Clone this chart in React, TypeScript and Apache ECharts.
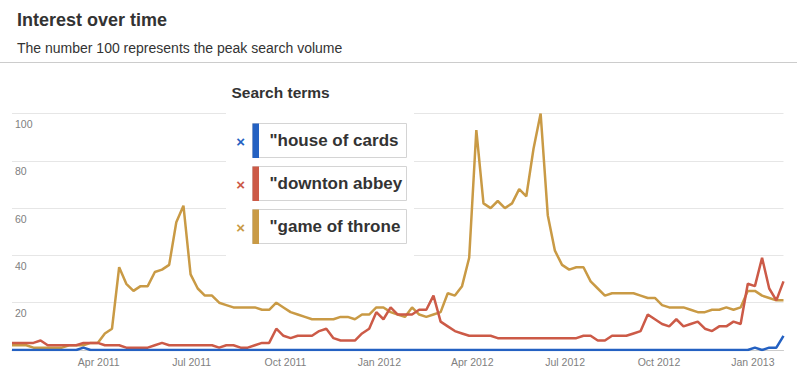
import React, { useEffect, useRef } from "react";
import * as echarts from "echarts";

// ---- data ----
const firstPoint = "2011-01-06"; // first weekly point
const weekMs = 7 * 24 * 3600 * 1000;

const termNames = ['"house of cards"', '"downton abbey"', '"game of thrones"'];
const termColors = ["#2461c2", "#cc5a47", "#c99a45"];

const houseOfCards = [
  0, 0, 0, 0, 0, 0, 0, 0, 0, 0, 1, 0, 0, 0, 0, 0, 0, 0, 0, 0,
  0, 0, 0, 0, 0, 0, 0, 0, 0, 0, 0, 0, 0, 0, 0, 0, 0, 0, 0, 0,
  0, 0, 0, 0, 0, 0, 0, 0, 0, 0, 0, 0, 0, 0, 0, 0, 0, 0, 0, 0,
  0, 0, 0, 0, 0, 0, 0, 0, 0, 0, 0, 0, 0, 0, 0, 0, 0, 0, 0, 0,
  0, 0, 0, 0, 0, 0, 0, 0, 0, 0, 0, 0, 0, 0, 0, 0, 0, 0, 0, 0,
  0, 0, 0, 0, 1, 0, 1, 1, 6,
];

const downtonAbbey = [
  3, 3, 3, 3, 4, 2, 2, 2, 2, 2, 3, 3, 3, 2, 2, 2, 1, 1, 1, 1,
  2, 3, 2, 2, 2, 2, 2, 2, 2, 1, 2, 2, 1, 1, 2, 3, 3, 9, 6, 5,
  6, 6, 6, 8, 9, 5, 4, 4, 4, 7, 9, 16, 13, 18, 15, 15, 15, 17, 17, 23,
  12, 10, 8, 7, 6, 6, 6, 6, 5, 5, 5, 5, 5, 5, 5, 5, 5, 5, 5, 5,
  6, 6, 4, 4, 6, 6, 6, 7, 8, 15, 13, 11, 10, 13, 10, 11, 12, 9, 8, 10,
  10, 12, 11, 28, 27, 39, 26, 21, 29,
];

const gameOfThrones = [
  2, 2, 2, 1, 1, 1, 1, 1, 2, 2, 2, 3, 3, 7, 9, 35, 28, 25, 27, 27,
  33, 34, 36, 54, 61, 32, 26, 23, 23, 20, 19, 18, 18, 18, 18, 17, 17, 20, 18, 16,
  15, 14, 13, 13, 13, 13, 14, 14, 13, 15, 15, 18, 18, 16, 15, 14, 18, 15, 14, 15,
  16, 24, 23, 27, 39, 93, 62, 60, 63, 60, 62, 68, 65, 85, 100, 57, 42, 36, 34, 35,
  35, 29, 26, 23, 24, 24, 24, 24, 23, 22, 22, 19, 18, 18, 18, 17, 16, 16, 17, 17,
  18, 17, 18, 25, 25, 23, 22, 21, 21,
];

const tickDates = [
  "2011-04-01", "2011-07-01", "2011-10-01", "2012-01-01",
  "2012-04-01", "2012-07-01", "2012-10-01", "2013-01-01",
];
const tickLabels = [
  "Apr 2011", "Jul 2011", "Oct 2011", "Jan 2012",
  "Apr 2012", "Jul 2012", "Oct 2012", "Jan 2013",
];

const FONT = "'Liberation Sans', Arial, Helvetica, sans-serif";

export default function App() {
  const ref = useRef<HTMLDivElement>(null);

  useEffect(() => {
    if (!ref.current) return;
    const chart = echarts.init(ref.current, null, { renderer: "svg" });

    const t0 = Date.parse(firstPoint);
    const toPoints = (arr: number[]) => arr.map((v, i) => [t0 + i * weekMs, v]);
    const tLast = t0 + (gameOfThrones.length - 1) * weekMs;
    const tickTimes = tickDates.map((d) => Date.parse(d));
    const labelMap = new Map<number, string>();
    tickTimes.forEach((t, i) => labelMap.set(t, tickLabels[i]));

    const seriesData = [houseOfCards, downtonAbbey, gameOfThrones];
    const drawOrder = [2, 1, 0];

    const boxTops = [123.5, 166.5, 209.5];
    const boxH = 34;

    const legendEls: any[] = [];
    termNames.forEach((name, i) => {
      const top = boxTops[i];
      const cy = top + boxH / 2;
      legendEls.push({
        type: "text",
        x: 240.5,
        y: cy + 0.5,
        z: 110,
        style: {
          text: "×",
          fontSize: 15,
          fontWeight: "bold",
          fontFamily: FONT,
          fill: termColors[i],
          align: "center",
          verticalAlign: "middle",
        },
      });
      legendEls.push({
        type: "rect",
        z: 110,
        shape: { x: 252.5, y: top, width: 154, height: boxH },
        style: { fill: "#ffffff", stroke: "#d4d4d4", lineWidth: 1 },
      });
      legendEls.push({
        type: "rect",
        z: 111,
        shape: { x: 252.5, y: top, width: 6.5, height: boxH + 0.5 },
        style: { fill: termColors[i] },
      });
      legendEls.push({
        type: "text",
        x: 269.5,
        y: cy,
        z: 112,
        style: {
          text: name,
          fontSize: 17,
          fontWeight: "bold",
          fontFamily: FONT,
          fill: "#333333",
          align: "left",
          verticalAlign: "middle",
          width: 134,
          overflow: "truncate",
          ellipsis: "",
        },
      });
    });

    chart.setOption({
      animation: false,
      textStyle: { fontFamily: FONT },
      grid: {
        left: 12,
        right: 13.5,
        top: 113.5,
        bottom: 27,
        containLabel: false,
        outerBoundsMode: "none",
      },
      xAxis: {
        type: "value",
        min: t0,
        max: tLast,
        axisLine: { show: true, lineStyle: { color: "#cccccc", width: 1 } },
        axisTick: { show: false },
        splitLine: { show: false },
        axisLabel: {
          customValues: tickTimes,
          formatter: (v: number) => labelMap.get(v) ?? "",
          color: "#808080",
          fontSize: 10.5,
          fontFamily: FONT,
          margin: 6,
          hideOverlap: false,
        },
      },
      yAxis: {
        type: "value",
        min: 0,
        max: 100,
        interval: 20,
        axisLine: { show: false },
        axisTick: { show: false },
        splitLine: { show: true, lineStyle: { color: "#e6e6e6", width: 1 } },
        axisLabel: {
          inside: true,
          margin: 3,
          verticalAlign: "top",
          padding: [5, 0, 0, 0],
          color: "#808080",
          fontSize: 10.5,
          fontFamily: FONT,
          formatter: (v: number) => (v === 0 ? "" : String(v)),
        },
      },
      series: drawOrder.map((idx) => ({
        type: "line",
        name: termNames[idx],
        data: toPoints(seriesData[idx]),
        showSymbol: false,
        symbol: "none",
        lineStyle: { color: termColors[idx], width: 2.5 },
        itemStyle: { color: termColors[idx] },
        z: 3,
      })),
      graphic: [
        {
          type: "text",
          x: 17,
          y: 20,
          style: {
            text: "Interest over time",
            fontSize: 18,
            fontWeight: "bold",
            fontFamily: FONT,
            fill: "#333333",
            align: "left",
            verticalAlign: "middle",
          },
        },
        {
          type: "text",
          x: 17,
          y: 48,
          style: {
            text: "The number 100 represents the peak search volume",
            fontSize: 14,
            fontFamily: FONT,
            fill: "#333333",
            align: "left",
            verticalAlign: "middle",
          },
        },
        {
          type: "line",
          shape: { x1: 0, y1: 62.5, x2: 797, y2: 62.5 },
          style: { stroke: "#cccccc", lineWidth: 1 },
        },
        {
          type: "rect",
          z: 100,
          shape: { x: 226, y: 70, width: 188, height: 190 },
          style: { fill: "#ffffff" },
        },
        {
          type: "text",
          x: 231.5,
          y: 92.5,
          z: 110,
          style: {
            text: "Search terms",
            fontSize: 15.5,
            fontWeight: "bold",
            fontFamily: FONT,
            fill: "#333333",
            align: "left",
            verticalAlign: "middle",
          },
        },
        ...legendEls,
      ],
    });

    return () => chart.dispose();
  }, []);

  return (
    <div
      ref={ref}
      style={{ position: "fixed", left: 0, top: 0, width: 797, height: 377, background: "#ffffff" }}
    />
  );
}
